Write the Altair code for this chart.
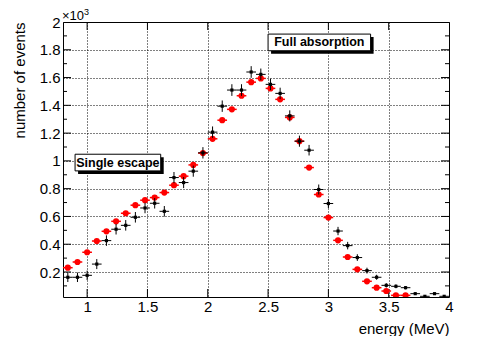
import altair as alt
import pandas as pd

# ---- data ----
energy = [0.84, 0.92, 1.00, 1.08, 1.16, 1.24, 1.32, 1.40, 1.48, 1.56,
          1.64, 1.72, 1.80, 1.88, 1.96, 2.04, 2.12, 2.20, 2.28, 2.36,
          2.44, 2.52, 2.60, 2.68, 2.76, 2.84, 2.92, 3.00, 3.08, 3.16,
          3.24, 3.32, 3.40, 3.48, 3.56, 3.64, 3.72, 3.80, 3.88, 3.96]
half_width = 0.04

data_counts = [162, 162, 176, 257, 426, 508, 536, 594, 661, 695,
               637, 880, 844, 926, 1058, 1207, 1394, 1510, 1510, 1640,
               1623, 1551, 1486, 1324, 1142, 1077, 794, 693, 495, 390,
               304, 210, 162, 104, 97, 87, 44, 25, 44, 25]
data_errors = [34, 34, 34, 36, 38, 38, 38, 38, 38, 38,
               38, 40, 40, 40, 41, 41, 41, 42, 42, 42,
               42, 41, 41, 40, 40, 38, 36, 33, 30, 27,
               24, 21, 18, 16, 14, 12, 8, 6, 8, 6]
sim_counts = [231, 272, 342, 423, 493, 565, 623, 681, 717, 736,
              772, 825, 890, 971, 1056, 1159, 1293, 1371, 1469, 1567,
              1594, 1522, 1443, 1313, 1142, 952, 758, 592, 428, 308,
              219, 133, 87, 63, 32, 32]

labels = ["Full absorption", "Single escape"]
label_x1 = [2.50, 0.90]
label_x2 = [3.35, 1.61]
label_y1 = [1793, 928]
label_y2 = [1913, 1048]

x_ticks = [1, 1.5, 2, 2.5, 3, 3.5, 4]
y_ticks = [200, 400, 600, 800, 1000, 1200, 1400, 1600, 1800, 2000]
y_minor = [100, 300, 500, 700, 900, 1100, 1300, 1500, 1700, 1900]

# ---- tables ----
df_data = pd.DataFrame({"energy": energy, "counts": data_counts, "err": data_errors})
df_data["xlo"] = df_data["energy"] - half_width
df_data["xhi"] = df_data["energy"] + half_width
df_data["ylo"] = df_data["counts"] - df_data["err"]
df_data["yhi"] = df_data["counts"] + df_data["err"]

df_sim = pd.DataFrame({"energy": energy[:len(sim_counts)], "counts": sim_counts})
df_sim["xlo"] = df_sim["energy"] - half_width
df_sim["xhi"] = df_sim["energy"] + half_width

df_lab = pd.DataFrame({"label": labels, "x1": label_x1, "x2": label_x2,
                       "y1": label_y1, "y2": label_y2})
df_lab["xc"] = (df_lab["x1"] + df_lab["x2"]) / 2
df_lab["yc"] = (df_lab["y1"] + df_lab["y2"]) / 2

df_xt = pd.DataFrame({"v": x_ticks[:-1]})
df_yt = pd.DataFrame({"v": y_ticks[:-1]})
df_ym = pd.DataFrame({"v": y_minor})

W, H = 386, 275
FONT = "Liberation Sans"

xscale = alt.Scale(domain=[0.8, 4.0], nice=False, zero=False)
yscale = alt.Scale(domain=[20, 2000], nice=False, zero=False)

axis_x = alt.Axis(values=x_ticks, labelExpr="datum.value", ticks=False, domain=False,
                  grid=True, gridDash=[1, 2], gridColor="black", gridOpacity=1,
                  labelFont=FONT, labelFontSize=15, labelColor="black", labelPadding=2,
                  labelFlush=False, labelOverlap=False,
                  title="energy (MeV)", titleFont=FONT, titleFontSize=15,
                  titleFontWeight="normal", titleColor="black",
                  titleX=W, titleY=31, titleAlign="right", titleBaseline="middle")
axis_y = alt.Axis(values=y_ticks, labelExpr="datum.value/1000", ticks=False, domain=False,
                  grid=True, gridDash=[1, 2], gridColor="black", gridOpacity=1,
                  labelFont=FONT, labelFontSize=15, labelColor="black", labelPadding=3,
                  labelOverlap=False,
                  title="number of events", titleFont=FONT, titleFontSize=15,
                  titleFontWeight="normal", titleColor="black",
                  titleX=-44, titleY=0, titleAngle=270, titleAlign="right",
                  titleBaseline="middle")


def X(field):
    return alt.X(field, type="quantitative", scale=xscale, axis=axis_x)


def Y(field):
    return alt.Y(field, type="quantitative", scale=yscale, axis=axis_y)


# simulation (red)
sim_h = alt.Chart(df_sim).mark_rule(color="#ff0000", strokeWidth=1.5, clip=True).encode(
    x=X("xlo"), x2="xhi", y=Y("counts"))
sim_p = alt.Chart(df_sim).mark_point(filled=True, shape="circle", size=38, color="#ff0000",
                                      opacity=1, clip=True).encode(x=X("energy"), y=Y("counts"))

# data (black)
dat_h = alt.Chart(df_data).mark_rule(color="black", strokeWidth=1, clip=True).encode(
    x=X("xlo"), x2="xhi", y=Y("counts"))
dat_v = alt.Chart(df_data).mark_rule(color="black", strokeWidth=1, clip=True).encode(
    x=X("energy"), y=Y("ylo"), y2="yhi")
dat_p = alt.Chart(df_data).mark_point(filled=True, shape="square", size=10, color="black",
                                       opacity=1, clip=True).encode(x=X("energy"), y=Y("counts"))

# ticks (inside the frame)
tk_l = alt.Chart(df_yt).mark_rule(color="black").encode(
    y=Y("v"), x=alt.value(0), x2=alt.value(8))
tk_r = alt.Chart(df_yt).mark_rule(color="black").encode(
    y=Y("v"), x=alt.value(W), x2=alt.value(W - 8))
tm_l = alt.Chart(df_ym).mark_rule(color="black").encode(
    y=Y("v"), x=alt.value(0), x2=alt.value(4))
tm_r = alt.Chart(df_ym).mark_rule(color="black").encode(
    y=Y("v"), x=alt.value(W), x2=alt.value(W - 4))
tk_b = alt.Chart(df_xt).mark_rule(color="black").encode(
    x=X("v"), y=alt.value(H), y2=alt.value(H - 8))
tk_t = alt.Chart(df_xt).mark_rule(color="black").encode(
    x=X("v"), y=alt.value(0), y2=alt.value(8))

# labels with shadow boxes
shadow = alt.Chart(df_lab).mark_rect(color="black", xOffset=3, x2Offset=3,
                                     yOffset=3, y2Offset=3).encode(
    x=X("x1"), x2="x2", y=Y("y1"), y2="y2")
box = alt.Chart(df_lab).mark_rect(fill="white", stroke="black", strokeWidth=1).encode(
    x=X("x1"), x2="x2", y=Y("y1"), y2="y2")
txt = alt.Chart(df_lab).mark_text(font=FONT, fontSize=12.5, fontWeight="bold",
                                  color="black", baseline="middle", align="center").encode(
    x=X("xc"), y=Y("yc"), text="label:N")

# exponent label
one = pd.DataFrame({"a": [0]})
exp1 = alt.Chart(one).mark_text(font=FONT, fontSize=13, align="left", baseline="alphabetic",
                                color="black").encode(
    x=alt.value(-1), y=alt.value(-2), text=alt.value("×10"))
exp2 = alt.Chart(one).mark_text(font=FONT, fontSize=9, align="left", baseline="alphabetic",
                                color="black").encode(
    x=alt.value(21), y=alt.value(-7), text=alt.value("3"))

chart = alt.layer(
    tk_l, tk_r, tm_l, tm_r, tk_b, tk_t,
    sim_h, sim_p, dat_h, dat_v, dat_p,
    shadow, box, txt, exp1, exp2,
).properties(
    width=W, height=H,
    autosize=alt.AutoSizeParams(type="none"),
    padding={"left": 55, "top": 14, "right": 20, "bottom": 39},
).configure_view(stroke="black", strokeWidth=1, fill="white")

chart.save("out.html", embed_options={"renderer": "svg", "actions": False})
